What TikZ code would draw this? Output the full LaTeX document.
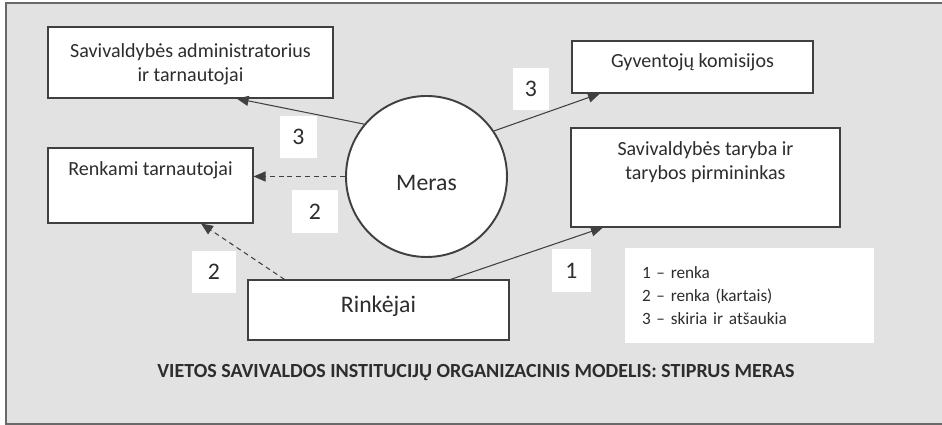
\documentclass[tikz,border=0pt]{standalone}
\usepackage{fontspec}
\setmainfont{Carlito}
\usepackage{tikz}
\usetikzlibrary{arrows.meta, positioning, calc}
\definecolor{schemegray}{RGB}{225, 226, 225}
\definecolor{schemeframe}{RGB}{105, 105, 105}
\definecolor{schemeline}{RGB}{64, 64, 64}
\definecolor{schemetext}{RGB}{45, 45, 45}
\newcommand{\boxfont}{\fontsize{11.4}{13.7}\selectfont}
\newcommand{\bigfont}{\fontsize{13.5}{16}\selectfont}
\newcommand{\notefont}{\fontsize{9.8}{13.1}\selectfont}
\newcommand{\titlefont}{\fontsize{11.4}{13}\selectfont}

\begin{document}
\begin{tikzpicture}[
    box/.style={draw=schemeline, fill=white, line width=0.6pt, inner sep=0pt},
    boxtext/.style={font=\boxfont, text=schemetext, align=center, anchor=north, inner sep=0pt},
    numbox/.style={fill=white, inner sep=0pt, font=\bigfont, text=schemetext},
    arr/.style={draw=schemeline, line width=0.6pt, -{Triangle[length=2.4mm, width=2mm]}},
    dasharr/.style={arr, dash pattern=on 2.8pt off 2.2pt}
  ]
    \useasboundingbox (0,0) rectangle (18.84,8.5);
    % background
    \draw[fill=schemegray, draw=schemeframe, line width=1.1pt] (0.12,8.44) rectangle (19.2,0.02);

    % boxes
    \node[box, minimum width=5.7cm, minimum height=1.42cm,
      label={[boxtext, yshift=-0.34cm]north:Savivaldybės administratorius\\ir tarnautojai}] (admin) at (3.81,7.25) {};
    \node[box, minimum width=4.1cm, minimum height=1.5cm,
      label={[boxtext, yshift=-0.28cm]north:Renkami tarnautojai}] (renk) at (3.01,4.79) {};
    \node[box, minimum width=4.82cm, minimum height=1.04cm,
      label={[boxtext, yshift=-0.26cm]north:Gyventojų komisijos}] (gyv) at (13.85,7.16) {};
    \node[box, minimum width=5.38cm, minimum height=1.98cm,
      label={[boxtext, yshift=-0.28cm]north:Savivaldybės taryba ir\\tarybos pirmininkas}] (taryba) at (14.11,4.95) {};
    \node[box, minimum width=5.22cm, minimum height=1.2cm,
      label={[boxtext, font=\bigfont, yshift=-0.33cm]north:Rinkėjai}] (rink) at (7.57,2.30) {};

    % mayor
    \node[circle, draw=schemeline, line width=1.1pt, fill=white, minimum size=3.22cm, inner sep=0pt,
      label={[font=\bigfont, text=schemetext, yshift=-0.13cm]center:Meras}] (meras) at (8.53,4.97) {};

    % connectors
    \draw[arr] (meras.140) -- (admin.-38.6);
    \draw[dasharr] (meras.180) -- (meras.180 -| renk.east);
    \draw[arr] (meras.34) -- (gyv.196);
    \draw[dasharr] (rink.162) -- (renk.-37);
    \draw[arr] (rink.23) -- (taryba.206.5);

    % numbers
    \node[numbox, minimum width=0.74cm, minimum height=0.84cm] (num3a) at (5.97,5.76) {3};
    \node[numbox, minimum width=0.92cm, minimum height=0.86cm] (num2a) at (6.30,4.27) {2};
    \node[numbox, minimum width=0.72cm, minimum height=0.84cm] (num3b) at (10.62,6.72) {3};
    \node[numbox, minimum width=0.88cm, minimum height=0.84cm] (num2b) at (4.28,3.06) {2};
    \node[numbox, minimum width=0.78cm, minimum height=0.86cm] (num1) at (11.43,3.09) {1};

    % legend
    \node[fill=white, inner xsep=0.34cm, inner ysep=0pt, minimum width=4.98cm, minimum height=1.9cm,
      text width=4.3cm, align=left, font=\notefont, text=schemetext] (legend) at (14.99,2.59)
      {1 -- renka\\2 -- renka (kartais)\\3 -- skiria ir atšaukia};

    % title
    \node[font=\titlefont\bfseries, text=schemetext, anchor=base] (title) at (9.52,0.94)
      {VIETOS SAVIVALDOS INSTITUCIJŲ ORGANIZACINIS MODELIS: STIPRUS MERAS};
\end{tikzpicture}
\end{document}
